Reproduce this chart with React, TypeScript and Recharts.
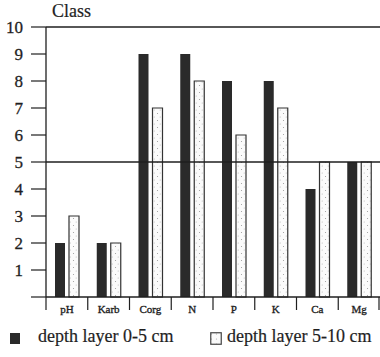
import React from 'react';
import { BarChart, Bar, XAxis, YAxis, ReferenceLine } from 'recharts';

// soil nutrient classes per depth layer
const categories = ['pH', 'Karb', 'Corg', 'N', 'P', 'K', 'Ca', 'Mg'];
const layer0to5 = [2, 2, 9, 9, 8, 8, 4, 5];
const layer5to10 = [3, 2, 7, 8, 6, 7, 5, 5];
const seriesNames = ['depth layer 0-5 cm', 'depth layer 5-10 cm'];
const yTicks = [0, 1, 2, 3, 4, 5, 6, 7, 8, 9, 10];

const W = 380;
const H = 357;
const Y_AXIS_W = 46;
const INK = '#1f1f1f';
const DARK = '#2a2a2a';
const FONT = '"Liberation Serif", "Times New Roman", "DejaVu Serif", serif';

const data = categories.map((c, i) => ({
  name: c,
  top: layer0to5[i],
  sub: layer5to10[i],
}));

const bandW = (W - Y_AXIS_W) / categories.length;

// category label plus the little separator line at the left of each band
const CategoryTick = (props: any) => {
  const { x, y, payload, index } = props;
  const left = x - bandW / 2;
  const isLast = index === categories.length - 1;
  return (
    <g>
      <line x1={left} y1={y} x2={left} y2={y + 13} stroke={INK} strokeWidth={1.2} />
      {isLast && (
        <line x1={left + bandW - 1} y1={y} x2={left + bandW - 1} y2={y + 13} stroke={INK} strokeWidth={1.2} />
      )}
      <text
        x={x}
        y={y + 16}
        textAnchor="middle"
        fontSize={11}
        fontFamily={FONT}
        fill={INK}
        stroke={INK}
        strokeWidth={0.35}
      >
        {payload.value}
      </text>
    </g>
  );
};

const LegendBox = () => (
  <div
    style={{
      position: 'relative',
      height: 35,
      width: W,
      fontFamily: FONT,
      fontSize: 18,
      color: INK,
      WebkitTextStroke: '0.2px #1f1f1f',
    }}
  >
    <div style={{ position: 'absolute', left: 10, top: 11, width: 10, height: 11, background: DARK }} />
    <div style={{ position: 'absolute', left: 38, top: 4, whiteSpace: 'nowrap' }}>{seriesNames[0]}</div>
    <svg style={{ position: 'absolute', left: 210, top: 10 }} width={12} height={13}>
      <rect x={0.75} y={0.75} width={10.5} height={11.5} fill="url(#stippleLegend)" stroke="#444" strokeWidth={1.2} />
      <defs>
        <pattern id="stippleLegend" width={5} height={5} patternUnits="userSpaceOnUse">
          <rect width={5} height={5} fill="#fafafa" />
          <circle cx={1.5} cy={2} r={0.6} fill="#aaa" />
        </pattern>
      </defs>
    </svg>
    <div style={{ position: 'absolute', left: 227, top: 4, whiteSpace: 'nowrap' }}>{seriesNames[1]}</div>
  </div>
);

export default function App() {
  return (
    <div style={{ position: 'absolute', left: 0, top: 0, width: W, height: H, background: '#fff' }}>
      <div
        style={{
          position: 'absolute',
          left: 52,
          top: 1,
          fontFamily: FONT,
          fontSize: 18,
          color: INK,
          WebkitTextStroke: '0.2px #1f1f1f',
        }}
      >
        Class
      </div>
      <BarChart
        width={W}
        height={H}
        data={data}
        margin={{ top: 27, right: 0, left: 0, bottom: 35 }}
        barSize={10}
        barGap={4}
      >
        <defs>
          <pattern id="stipple" width={6} height={7} patternUnits="userSpaceOnUse">
            <rect width={6} height={7} fill="#fbfbfb" />
            <circle cx={1.5} cy={1.5} r={0.55} fill="#999" />
            <circle cx={4.2} cy={5} r={0.5} fill="#b0b0b0" />
          </pattern>
        </defs>
        <XAxis
          dataKey="name"
          height={25}
          axisLine={{ stroke: INK, strokeWidth: 1.3 }}
          tickLine={false}
          tickSize={0}
          tickMargin={0}
          interval={0}
          tick={<CategoryTick />}
        />
        <YAxis
          width={Y_AXIS_W}
          domain={[0, 10]}
          ticks={yTicks}
          interval={0}
          tickSize={15}
          tickMargin={8}
          axisLine={{ stroke: INK, strokeWidth: 1.3 }}
          tickLine={{ stroke: INK, strokeWidth: 1.2 }}
          tickFormatter={(v: number) => (v === 0 ? '' : String(v))}
          tick={{ fill: INK, fontSize: 17, fontFamily: FONT, stroke: INK, strokeWidth: 0.3 }}
        />
        <ReferenceLine y={10} stroke={INK} strokeWidth={1.3} />
        <ReferenceLine y={5} stroke={INK} strokeWidth={1.3} />
        <Bar dataKey="top" name={seriesNames[0]} fill={DARK} isAnimationActive={false} />
        <Bar
          dataKey="sub"
          name={seriesNames[1]}
          fill="url(#stipple)"
          stroke="#333"
          strokeWidth={1.2}
          isAnimationActive={false}
        />
      </BarChart>
      <div style={{ position: 'absolute', left: 0, top: 322 }}>
        <LegendBox />
      </div>
    </div>
  );
}
